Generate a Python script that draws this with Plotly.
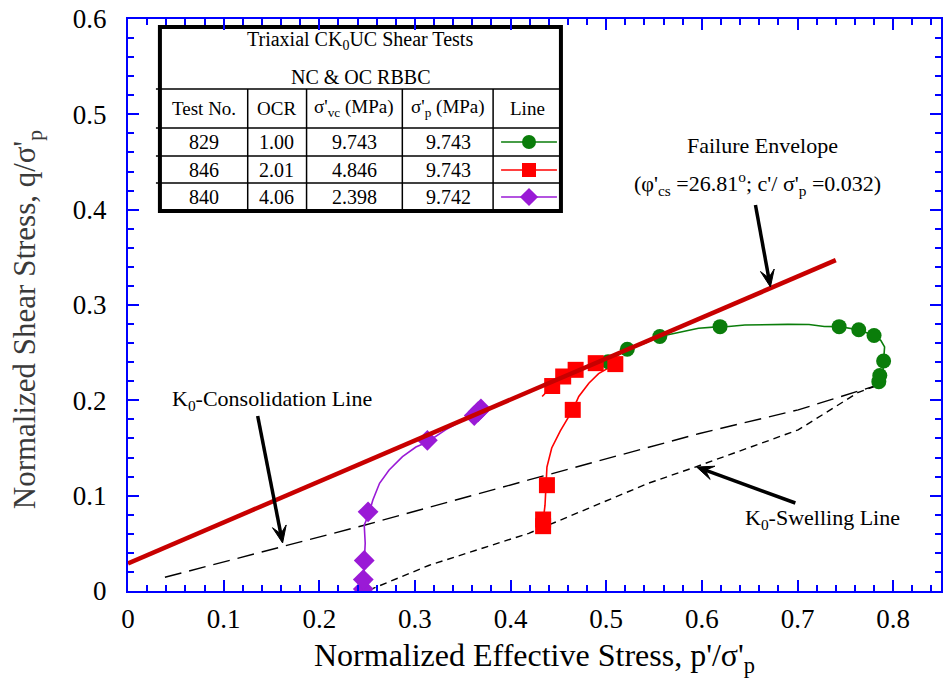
import math
import plotly.graph_objects as go

# ---------------- data ----------------
# Failure envelope
env_p = [0.0, 0.740]
env_q = [0.029, 0.347]

# K0-consolidation line (long dash)
k0c_p = [0.0386, 0.247, 0.419, 0.5965, 0.7007, 0.787]
k0c_q = [0.0144, 0.069, 0.1165, 0.165, 0.190, 0.217]

# K0-swelling line (short dash)
k0s_p = [0.252, 0.315, 0.419, 0.544, 0.593, 0.7007, 0.763, 0.787]
k0s_q = [0.001, 0.027, 0.0605, 0.113, 0.130, 0.169, 0.208, 0.217]

# Test 829 (OCR 1.00) stress path
t829_p = [0.787, 0.789, 0.790, 0.791, 0.787, 0.780, 0.764, 0.7435, 0.728, 0.712,
          0.690, 0.660, 0.645, 0.628, 0.619, 0.5965, 0.579, 0.5687, 0.556, 0.541,
          0.522, 0.502, 0.492]
t829_q = [0.217, 0.225, 0.2413, 0.256, 0.263, 0.268, 0.274, 0.2773, 0.2775, 0.2795,
          0.2797, 0.2795, 0.279, 0.2775, 0.2773, 0.2757, 0.272, 0.2693, 0.267, 0.260,
          0.2536, 0.2406, 0.232]
t829_mp = [0.785, 0.786, 0.790, 0.780, 0.764, 0.7435, 0.619, 0.556, 0.522, 0.502]
t829_mq = [0.2196, 0.226, 0.2413, 0.268, 0.274, 0.2773, 0.2773, 0.267, 0.2536, 0.2406]

# Test 846 (OCR 2.01) stress path
t846_p = [0.433, 0.434, 0.436, 0.437, 0.438, 0.443, 0.452, 0.465, 0.4713, 0.4818,
          0.492, 0.5095, 0.489, 0.468, 0.455, 0.4435, 0.433]
t846_q = [0.065, 0.075, 0.090, 0.110, 0.130, 0.150, 0.168, 0.190, 0.204, 0.218,
          0.228, 0.238, 0.239, 0.232, 0.225, 0.215, 0.204]
t846_mp = [0.434, 0.434, 0.438, 0.465, 0.4435, 0.455, 0.468, 0.489, 0.5095]
t846_mq = [0.068, 0.075, 0.111, 0.190, 0.215, 0.225, 0.232, 0.239, 0.238]

# Test 840 (OCR 4.06) stress path
t840_p = [0.247, 0.246, 0.247, 0.248, 0.247, 0.2516, 0.256, 0.263, 0.273, 0.287,
          0.301, 0.3125, 0.332, 0.350, 0.364, 0.3705]
t840_q = [0.000, 0.010, 0.030, 0.050, 0.069, 0.0805, 0.0955, 0.113, 0.127, 0.141,
          0.151, 0.156, 0.169, 0.179, 0.1865, 0.193]
t840_mp = [0.246, 0.246, 0.247, 0.251, 0.313, 0.362, 0.366, 0.369]
t840_mq = [0.002, 0.012, 0.032, 0.083, 0.158, 0.184, 0.188, 0.191]

# Table content
tbl_title = ["Triaxial CK<sub>0</sub>UC Shear Tests", "NC &amp; OC RBBC"]
tbl_header = ["Test No.", "OCR", "σ'<sub>vc</sub> (MPa)", "σ'<sub>p</sub> (MPa)", "Line"]
test_no = ["829", "846", "840"]
ocr = ["1.00", "2.01", "4.06"]
sig_vc = ["9.743", "4.846", "2.398"]
sig_p = ["9.743", "9.743", "9.742"]

# ---------------- styles / layout constants ----------------
GREEN = "#0a7d0a"
RED = "#ff0000"
PURPLE = "#9a1ad6"
ENV = "#c80000"
BLUE = "#0000ff"
FONT = "Liberation Serif, Times New Roman, serif"

W, H = 943, 698
ML, MR, MT, MB = 128, 0, 19, 107
PW, PH = W - ML - MR, H - MT - MB


def xp(px):  # page pixel -> paper x
    return (px - ML) / PW


def yp(py):  # page pixel -> paper y
    return (H - MB - py) / PH


fig = go.Figure()

# dashed reference lines
fig.add_trace(go.Scatter(x=k0c_p, y=k0c_q, mode="lines",
                         line=dict(color="black", width=1.4, dash="17px,8px")))
fig.add_trace(go.Scatter(x=k0s_p, y=k0s_q, mode="lines",
                         line=dict(color="black", width=1.4, dash="7px,5px")))

# stress paths
for px_, qy_, c in [(t829_p, t829_q, GREEN), (t846_p, t846_q, RED), (t840_p, t840_q, PURPLE)]:
    fig.add_trace(go.Scatter(x=px_, y=qy_, mode="lines", line=dict(color=c, width=1.6)))

fig.add_trace(go.Scatter(x=t829_mp, y=t829_mq, mode="markers",
                         marker=dict(symbol="circle", size=15, color=GREEN)))
fig.add_trace(go.Scatter(x=t846_mp, y=t846_mq, mode="markers",
                         marker=dict(symbol="square", size=16, color=RED)))
fig.add_trace(go.Scatter(x=t840_mp, y=t840_mq, mode="markers",
                         marker=dict(symbol="diamond", size=16, color=PURPLE)))

# failure envelope on top
fig.add_trace(go.Scatter(x=env_p, y=env_q, mode="lines", line=dict(color=ENV, width=4.5)))

# ---------------- table ----------------
col_edges = [160, 248, 307, 403, 494, 562]
row_edges = [27, 89, 128, 156, 183, 211]
col_cent = [204, 277, 355, 449, 528]
row_cent = [108, 142, 170, 197]

shapes = []
shapes.append(dict(type="rect", xref="paper", yref="paper", x0=xp(col_edges[0]), x1=xp(col_edges[-1]),
                   y0=yp(row_edges[0]), y1=yp(row_edges[-1]), line=dict(color="black", width=4),
                   fillcolor="white", layer="below"))
for r in row_edges[1:-1]:
    shapes.append(dict(type="line", xref="paper", yref="paper", x0=xp(col_edges[0] - 4),
                       x1=xp(col_edges[-1]), y0=yp(r), y1=yp(r),
                       line=dict(color="black", width=1.5), layer="above"))
for c in col_edges[1:-1]:
    shapes.append(dict(type="line", xref="paper", yref="paper", x0=xp(c), x1=xp(c),
                       y0=yp(row_edges[1]), y1=yp(row_edges[-1]),
                       line=dict(color="black", width=1.5), layer="above"))

annotations = []


def label(px, py, text, size, color="black", **kw):
    annotations.append(dict(xref="paper", yref="paper", x=xp(px), y=yp(py), text=text,
                            showarrow=False, xanchor="center", yanchor="middle",
                            font=dict(size=size, family=FONT, color=color), **kw))


TFS = 19
label(361, 41, tbl_title[0], TFS + 1)
label(361, 77, tbl_title[1], TFS + 1)
for i, h in enumerate(tbl_header):
    label(col_cent[i], row_cent[0], h, TFS)
rows = list(zip(test_no, ocr, sig_vc, sig_p))
for j, row in enumerate(rows):
    for i, v in enumerate(row):
        label(col_cent[i], row_cent[j + 1], v, TFS + 1)

# legend swatches in the "Line" column (pixel-space overlay axis)
sw_styles = [(GREEN, "circle"), (RED, "square"), (PURPLE, "diamond")]
for j, (c, sym) in enumerate(sw_styles):
    y = row_cent[j + 1]
    fig.add_trace(go.Scatter(x=[502, 558], y=[y, y], xaxis="x2", yaxis="y2", mode="lines",
                             line=dict(color=c, width=1.6)))
    fig.add_trace(go.Scatter(x=[530], y=[y], xaxis="x2", yaxis="y2", mode="markers",
                             marker=dict(symbol=sym, size=14, color=c)))

# ---------------- text labels and arrows ----------------
AFS = 22
label(764, 145, "Failure Envelope", AFS)
label(759, 184, "(φ'<sub>cs</sub> =26.81<sup>o</sup>; c'/ σ'<sub>p</sub> =0.032)", AFS)
label(272, 400, "K<sub>0</sub>-Consolidation Line", AFS)
label(824, 519, "K<sub>0</sub>-Swelling Line", AFS)
label(27, 320, "Normalized Shear Stress, q/σ'<sub>p</sub>", 31, color="#3a3a3a", textangle=-90)

# arrows drawn as shapes: shaft + barbed head (tip, tail in page pixels)
arrows = [((772, 287), (757, 205)), ((283, 543), (258, 416)), ((698, 467), (797, 503))]
HL, HW, NOTCH = 17, 7, 0.55
for (tx, ty), (sx, sy) in arrows:
    d = math.hypot(tx - sx, ty - sy)
    ux, uy = (tx - sx) / d, (ty - sy) / d
    nx, ny = -uy, ux
    bx, by = tx - NOTCH * HL * ux, ty - NOTCH * HL * uy
    shapes.append(dict(type="line", xref="paper", yref="paper", x0=xp(sx), y0=yp(sy),
                       x1=xp(bx), y1=yp(by), line=dict(color="black", width=3.5), layer="above"))
    pts = [(tx, ty),
           (tx - HL * ux + HW * nx, ty - HL * uy + HW * ny),
           (bx, by),
           (tx - HL * ux - HW * nx, ty - HL * uy - HW * ny)]
    path = "M " + " L ".join(f"{xp(a):.5f},{yp(b):.5f}" for a, b in pts) + " Z"
    shapes.append(dict(type="path", xref="paper", yref="paper", path=path,
                       fillcolor="black", line=dict(color="black", width=1), layer="above"))

axis_common = dict(showgrid=False, zeroline=False, showline=True, linecolor=BLUE, linewidth=2,
                   mirror="allticks", ticks="inside", ticklen=11, tickwidth=1.5, tickcolor=BLUE,
                   tickfont=dict(size=27, family=FONT, color="black"))

fig.update_layout(
    width=W, height=H,
    margin=dict(l=ML, r=MR, t=MT, b=MB),
    paper_bgcolor="white", plot_bgcolor="white",
    showlegend=False,
    font=dict(family=FONT, color="black"),
    xaxis=dict(range=[0, 0.85], tick0=0, dtick=0.1, tickformat="~g",
               minor=dict(dtick=0.02, ticks="inside", ticklen=6, tickwidth=1.5, tickcolor=BLUE),
               title=dict(text="Normalized Effective Stress, p'/σ'<sub>p</sub>",
                          font=dict(size=32, family=FONT, color="black"), standoff=10),
               ticklabelstandoff=3,
               **axis_common),
    yaxis=dict(range=[0, 0.6], tick0=0, dtick=0.1, tickformat="~g",
               minor=dict(dtick=0.02, ticks="inside", ticklen=6, tickwidth=1.5, tickcolor=BLUE),
               ticklabelstandoff=14,
               **axis_common),
    xaxis2=dict(overlaying="x", range=[ML, W - MR], visible=False, showticklabels=False,
                showgrid=False, zeroline=False),
    yaxis2=dict(overlaying="y", range=[H - MB, MT], visible=False, showticklabels=False,
                showgrid=False, zeroline=False),
    shapes=shapes,
    annotations=annotations,
)

fig.write_html("out.html")
